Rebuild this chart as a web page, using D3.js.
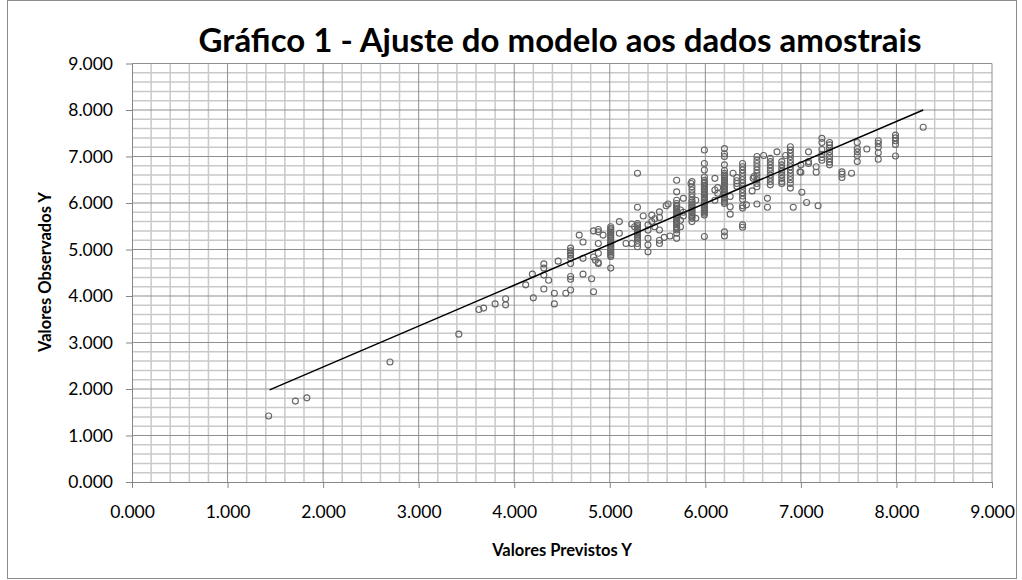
<!DOCTYPE html>
<html>
<head>
<meta charset="utf-8">
<script src="https://cdn.jsdelivr.net/npm/d3@7"></script>
<style>
  body { margin: 0; background: #fff; }
  svg { display: block; }
  text { font-family: Lato, "Liberation Sans", sans-serif; fill: #000; }
</style>
</head>
<body>
<svg id="canvas"></svg>
<script>
"use strict";

const columns = [
  [1.43, [1.42]], [1.71, [1.74]], [1.83, [1.81]], [2.70, [2.58]], [3.42, [3.18]],
  [3.63, [3.71]], [3.68, [3.74]], [3.80, [3.83]], [3.91, [3.94, 3.81]],
  [4.12, [4.24]], [4.19, [4.47]], [4.20, [3.96]], [4.31, [4.69, 4.60, 4.45, 4.15]],
  [4.36, [4.34]], [4.42, [4.06, 3.83]], [4.46, [4.75]], [4.54, [4.06]],
  [4.59, [5.03, 4.97, 4.92, 4.88, 4.81, 4.70, 4.42, 4.36, 4.13]],
  [4.68, [5.31]], [4.72, [5.16, 4.81, 4.47]], [4.81, [4.37]], [4.83, [5.40, 4.84, 4.09]],
  [4.85, [4.77]], [4.88, [5.43, 5.38, 5.13, 4.92, 4.72, 4.70]], [4.93, [5.31]],
  [5.01, [5.49, 5.45, 5.42, 5.38, 5.35, 5.31, 5.28, 5.24, 5.20, 5.16, 5.13, 5.09, 5.06, 5.02, 4.99, 4.95, 4.92, 4.88, 4.85, 4.60]],
  [5.10, [5.60, 5.35]], [5.17, [5.13]], [5.23, [5.55, 5.13]], [5.26, [5.49]],
  [5.29, [6.64, 5.91, 5.56, 5.52, 5.49, 5.45, 5.42, 5.38, 5.35, 5.31, 5.28, 5.24, 5.20, 5.13, 5.06]],
  [5.35, [5.72]], [5.40, [5.53, 5.42, 5.24, 5.10, 4.95]], [5.44, [5.74, 5.60]],
  [5.47, [5.66, 5.49]], [5.52, [5.81, 5.69, 5.42, 5.20, 5.13]], [5.57, [5.26]],
  [5.59, [5.94]], [5.61, [5.98]], [5.63, [5.29]],
  [5.70, [6.49, 6.24, 6.06, 5.99, 5.95, 5.92, 5.88, 5.85, 5.81, 5.78, 5.74, 5.71, 5.67, 5.63, 5.60, 5.56, 5.53, 5.49, 5.45, 5.42, 5.35, 5.24]],
  [5.74, [5.85, 5.63, 5.49]], [5.77, [6.10, 5.80, 5.72]], [5.85, [6.42]],
  [5.86, [6.46, 6.35, 6.28, 6.20, 6.13, 6.06, 6.02, 5.98, 5.95, 5.91, 5.88, 5.84, 5.81, 5.78, 5.74, 5.70, 5.67, 5.60]],
  [5.90, [6.06, 5.67]],
  [5.99, [7.14, 6.85, 6.71, 6.56, 6.49, 6.45, 6.42, 6.38, 6.35, 6.31, 6.28, 6.24, 6.20, 6.17, 6.13, 6.10, 6.06, 6.02, 5.99, 5.95, 5.91, 5.88, 5.84, 5.81, 5.78, 5.74, 5.28]],
  [6.10, [6.53, 6.28, 6.06]], [6.13, [6.33, 6.21]],
  [6.20, [7.17, 7.06, 7.00, 6.82, 6.70, 6.64, 6.60, 6.56, 6.53, 6.49, 6.46, 6.42, 6.38, 6.35, 6.31, 6.28, 6.24, 6.20, 6.17, 6.13, 6.10, 6.06, 6.02, 5.99, 5.38, 5.29]],
  [6.26, [6.14, 5.92, 5.76]], [6.29, [6.64]], [6.33, [6.55, 6.48, 6.42, 6.36]],
  [6.39, [6.85, 6.78, 6.71, 6.64, 6.57, 6.50, 6.43, 6.36, 6.29, 6.22, 6.15, 6.08, 5.94, 5.89, 5.53, 5.48]],
  [6.43, [5.96]], [6.49, [6.26]], [6.50, [6.53]], [6.51, [6.57]],
  [6.54, [7.00, 6.92, 6.85, 6.78, 6.71, 6.64, 6.57, 6.50, 6.42, 6.35, 5.98]],
  [6.61, [7.02]], [6.65, [6.10, 5.91]],
  [6.68, [6.96, 6.89, 6.82, 6.75, 6.68, 6.60, 6.53, 6.46, 6.39]], [6.75, [7.10]],
  [6.80, [6.89, 6.82, 6.75, 6.68, 6.60, 6.53, 6.46, 6.42]], [6.84, [7.02]],
  [6.89, [7.21, 7.14, 7.07, 7.00, 6.92, 6.85, 6.78, 6.71, 6.64, 6.57, 6.50, 6.42, 6.32]],
  [6.92, [5.91]], [6.99, [6.67]], [7.00, [6.82, 6.66]], [7.01, [6.23]], [7.06, [6.01]],
  [7.08, [7.10, 6.89, 6.85]], [7.16, [6.78, 6.66]], [7.18, [5.94]],
  [7.22, [7.39, 7.30, 7.15, 7.05, 6.98, 6.92]],
  [7.30, [7.30, 7.25, 7.18, 7.10, 7.02, 6.95, 6.88, 6.82]],
  [7.43, [6.67, 6.62, 6.55]], [7.53, [6.64]], [7.59, [7.30, 7.17, 7.10, 7.02, 6.89]],
  [7.69, [7.16]], [7.81, [7.34, 7.28, 7.20, 7.08, 6.94]],
  [7.99, [7.46, 7.40, 7.34, 7.26, 7.01]], [8.28, [7.63]]
];

const trendLine = [[1.44, 1.98], [8.28, 8.00]];

const xTicks = [0, 1, 2, 3, 4, 5, 6, 7, 8, 9];
const yTicks = [0, 1, 2, 3, 4, 5, 6, 7, 8, 9];
const xTickLabels = ["0.000", "1.000", "2.000", "3.000", "4.000", "5.000", "6.000", "7.000", "8.000", "9.000"];
const yTickLabels = ["0.000", "1.000", "2.000", "3.000", "4.000", "5.000", "6.000", "7.000", "8.000", "9.000"];

const chartTitle = "Gráfico 1 - Ajuste do modelo aos dados amostrais";
const xTitle = "Valores Previstos Y";
const yTitle = "Valores Observados Y";

let width = 1022;
let height = 580;

let points = [];
columns.forEach((c) => {
    c[1].forEach((v) => points.push({ x: c[0], y: v }));
});

let canvas = d3.select('#canvas')
canvas.attr('width', width)
    .attr('height', height);

// chart frame
canvas.append('rect')
    .attr('x', 7.5)
    .attr('y', 0.5)
    .attr('width', 1009)
    .attr('height', 578)
    .attr('fill', '#fff')
    .attr('stroke', '#8c8c8c')
    .attr('stroke-width', 1);

let xScale = d3.scaleLinear().domain([0, 9]).range([132, 992]);
let yScale = d3.scaleLinear().domain([0, 9]).range([482, 63.5]);

// minor grid every 0.2
let minor = d3.range(0, 9.0001, 0.2).filter((v) => Math.abs(v - Math.round(v)) > 0.01);

let grid = canvas.append('g').attr('class', 'grid');
grid.selectAll('.mx')
    .data(minor)
    .enter()
    .append('line')
    .attr('x1', (d) => xScale(d))
    .attr('x2', (d) => xScale(d))
    .attr('y1', yScale(0))
    .attr('y2', yScale(9))
    .attr('stroke', '#c9c9c9')
    .attr('stroke-width', 1.5);
grid.selectAll('.my')
    .data(minor)
    .enter()
    .append('line')
    .attr('y1', (d) => yScale(d))
    .attr('y2', (d) => yScale(d))
    .attr('x1', xScale(0))
    .attr('x2', xScale(9))
    .attr('stroke', '#c9c9c9')
    .attr('stroke-width', 1.5);
grid.selectAll('.Mx')
    .data(xTicks.slice(1))
    .enter()
    .append('line')
    .attr('x1', (d) => xScale(d))
    .attr('x2', (d) => xScale(d))
    .attr('y1', yScale(0))
    .attr('y2', yScale(9))
    .attr('stroke', '#8f8f8f')
    .attr('stroke-width', 1);
grid.selectAll('.My')
    .data(yTicks.slice(1))
    .enter()
    .append('line')
    .attr('y1', (d) => yScale(d))
    .attr('y2', (d) => yScale(d))
    .attr('x1', xScale(0))
    .attr('x2', xScale(9))
    .attr('stroke', '#8f8f8f')
    .attr('stroke-width', 1);

// axes
let xAxis = d3.axisBottom(xScale)
    .tickValues(xTicks)
    .tickFormat((d, i) => xTickLabels[i])
    .tickSize(6)
    .tickSizeOuter(0)
    .tickPadding(18);
let yAxis = d3.axisLeft(yScale)
    .tickValues(yTicks)
    .tickFormat((d, i) => yTickLabels[i])
    .tickSize(6)
    .tickSizeOuter(0)
    .tickPadding(13);

let gx = canvas.append('g')
    .attr('transform', 'translate(0, ' + yScale(0) + ')')
    .call(xAxis);
let gy = canvas.append('g')
    .attr('transform', 'translate(' + xScale(0) + ', 0)')
    .call(yAxis);
[gx, gy].forEach((g) => {
    g.select('.domain').attr('stroke', '#868686');
    g.selectAll('.tick line').attr('stroke', '#868686');
    g.selectAll('.tick text')
        .style('font-size', '17.5px')
        .style('font-family', 'Lato, sans-serif')
        .attr('fill', '#000');
});

// points
canvas.append('g')
    .selectAll('circle')
    .data(points)
    .enter()
    .append('circle')
    .attr('cx', (d) => xScale(d.x))
    .attr('cy', (d) => yScale(d.y))
    .attr('r', 3)
    .attr('fill', 'none')
    .attr('stroke', '#646464')
    .attr('stroke-width', 1.1);

// trend line
canvas.append('path')
    .datum(trendLine)
    .attr('d', d3.line().x((d) => xScale(d[0])).y((d) => yScale(d[1])))
    .attr('fill', 'none')
    .attr('stroke', '#000')
    .attr('stroke-width', 1.5);

// titles
canvas.append('text')
    .attr('x', 560)
    .attr('y', 52)
    .attr('text-anchor', 'middle')
    .style('font-size', '33px')
    .style('font-weight', 'bold')
    .text(chartTitle);

canvas.append('text')
    .attr('x', 562)
    .attr('y', 556)
    .attr('text-anchor', 'middle')
    .style('font-size', '16.5px')
    .style('font-weight', 'bold')
    .text(xTitle);

canvas.append('text')
    .attr('transform', 'translate(51, 272) rotate(-90)')
    .attr('text-anchor', 'middle')
    .style('font-size', '16.5px')
    .style('font-weight', 'bold')
    .text(yTitle);
</script>
</body>
</html>
